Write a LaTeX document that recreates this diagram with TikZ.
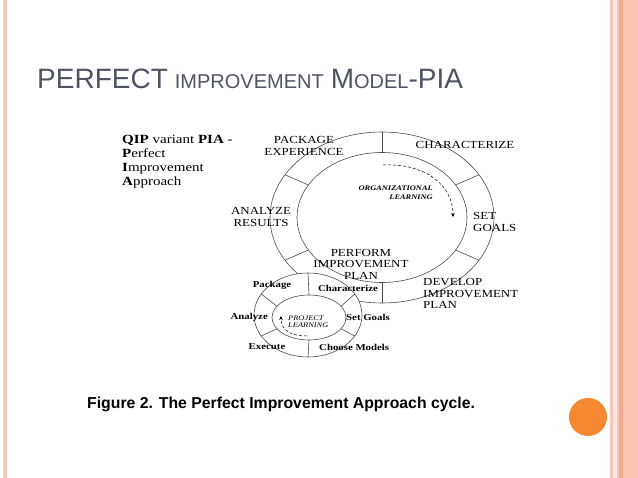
\documentclass[tikz,border=0pt]{standalone}
\usepackage{fontspec}
\setmainfont{Liberation Serif}
\newfontfamily\diagfont[FakeStretch=1.2]{Liberation Serif}
\newfontfamily\ttlfont{Liberation Sans}
\newfontfamily\capfont{Liberation Sans}
\usetikzlibrary{arrows.meta,calc}
\definecolor{ttlgray}{RGB}{78,84,98}
\definecolor{bpink}{RGB}{246,200,184}
\definecolor{blight}{RGB}{252,232,224}
\definecolor{bsalmon}{RGB}{250,196,176}
\definecolor{bdark}{RGB}{242,168,142}
\definecolor{borange}{RGB}{247,136,50}
\definecolor{linegray}{RGB}{75,75,75}
\begin{document}
\begin{tikzpicture}[x=1pt,y=-1pt,
  ring/.style={draw=linegray, line width=0.6pt},
  biglbl/.style={font=\diagfont\fontsize{10.8}{12}\selectfont, inner sep=0pt},
  smalllbl/.style={font=\diagfont\bfseries\fontsize{9}{10}\selectfont, inner sep=0pt},
  learnlbl/.style={inner sep=0pt},
  dasharrow/.style={draw=black, line width=0.5pt, dash pattern=on 3pt off 2pt, -{Stealth[length=4pt,width=3.5pt]}}
]
% background and bounding box
\fill[white] (0,0) rectangle (638,478);
\useasboundingbox (0,0) rectangle (638,478);
% slide borders
\fill[bpink] (2.7,0) rectangle (6.5,478);
\fill[bpink] (610,0) rectangle (612.7,478);
\fill[blight] (612.7,0) rectangle (616.7,478);
\fill[bsalmon] (616.7,0) rectangle (619.3,478);
\fill[bdark] (619.3,0) rectangle (623.3,478);
\fill[bsalmon] (623.3,0) rectangle (638,478);
% orange dot
\fill[borange] (588,417) circle (19pt);

% title
\node[anchor=base west, inner sep=0pt, text=ttlgray, font=\ttlfont] (title) at (37,89)
 {{\fontsize{28}{30}\selectfont PERFECT}\hspace{7pt}{\fontsize{20}{22}\selectfont IMPROVEMENT}\hspace{7pt}{\fontsize{28}{30}\selectfont M}{\fontsize{20}{22}\selectfont ODEL}{\fontsize{28}{30}\selectfont -PIA}};

% caption
\node[anchor=base west, inner sep=0pt, font=\capfont\bfseries\fontsize{15.8}{18}\selectfont] (caption) at (87,409)
 {Figure 2. The Perfect Improvement Approach cycle.};

% QIP text
\node[anchor=north west, inner sep=0pt, align=left, font=\diagfont\fontsize{12.5}{14}\selectfont] (qip) at (122,135.5)
 {\textbf{QIP} variant \textbf{PIA} -\\\textbf{P}erfect\\\textbf{I}mprovement\\\textbf{A}pproach};

% big ring
\coordinate (B) at (382,217.5);
\draw[ring] (B) ellipse [x radius=112pt, y radius=85.5pt];
\draw[ring] (B) ellipse [x radius=85pt, y radius=65pt];
\foreach \a in {30,90,150,210,270,330}{
  \coordinate (bi\a) at ($(B)+({85*cos(\a)},{65*sin(\a)})$);
  \coordinate (bo\a) at ($(B)+({112*cos(\a)},{85.5*sin(\a)})$);
  \draw[ring] (bi\a) -- (bo\a);
}

% big labels
\node[biglbl, align=center] (pkgexp) at (304,146) {PACKAGE\\EXPERIENCE};
\node[biglbl] (charbig) at (465,145) {CHARACTERIZE};
\node[biglbl, align=left, anchor=west] (setgoals) at (473,222) {SET\\GOALS};
\node[biglbl, align=center] (analyze) at (261,217) {ANALYZE\\RESULTS};
\node[biglbl, align=center, font=\diagfont\fontsize{10.8}{11.5}\selectfont] (perform) at (361,264) {PERFORM\\IMPROVEMENT\\PLAN};
\node[biglbl, align=left, anchor=west, font=\diagfont\fontsize{10.8}{11.5}\selectfont] (develop) at (423,293.5) {DEVELOP\\IMPROVEMENT\\PLAN};
\node[learnlbl, align=right, anchor=east, font=\diagfont\bfseries\itshape\fontsize{7}{9}\selectfont] (orglearn) at (433,192.5) {ORGANIZATIONAL\\LEARNING};

% organizational learning arrow
\coordinate (oa1) at (383,165);
\coordinate (oa2) at (453,217);
\draw[dasharrow] (oa1) .. controls (425,163) and (453,185) .. (oa2);

% small ring
\coordinate (S) at (308,315);
\coordinate (Si) at (309,317.5);
\draw[ring, fill=white] (S) ellipse [x radius=54pt, y radius=42pt];
\draw[ring] (Si) ellipse [x radius=37pt, y radius=22.5pt];
\foreach \a in {30,90,150,210,270,330}{
  \coordinate (si\a) at ($(Si)+({37*cos(\a)},{22.5*sin(\a)})$);
  \coordinate (so\a) at ($(S)+({54*cos(\a)},{42*sin(\a)})$);
  \draw[ring] (si\a) -- (so\a);
}

% small labels
\node[smalllbl] (spkg) at (272,285) {Package};
\node[smalllbl] (schar) at (348,288) {Characterize};
\node[smalllbl, anchor=east] (sanal) at (268,317) {Analyze};
\node[smalllbl, anchor=west] (sset) at (346,317) {Set Goals};
\node[smalllbl] (sexec) at (267,347) {Execute};
\node[smalllbl, anchor=west] (schoose) at (319,347) {Choose Models};
\node[learnlbl, align=left, anchor=west, font=\diagfont\itshape\fontsize{7}{7}\selectfont] (projlearn) at (288,322) {PROJECT\\LEARNING};

% project learning arrow
\coordinate (pa1) at (307,336);
\coordinate (pa2) at (281,316);
\draw[dasharrow] (pa1) .. controls (292,336) and (281,331) .. (pa2);
\end{tikzpicture}
\end{document}
